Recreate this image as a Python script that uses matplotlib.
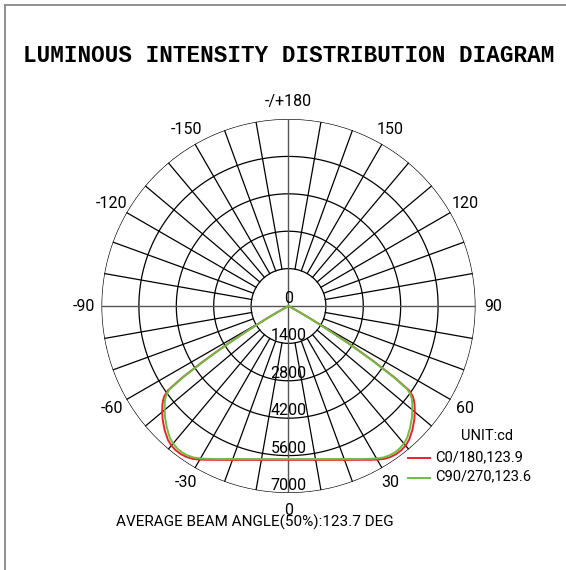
import matplotlib.pyplot as plt
import numpy as np
from matplotlib.lines import Line2D

# gamma angles (deg from nadir) and intensities (cd), half profile, mirrored
gamma = [0, 5, 10, 15, 20, 25, 28, 30, 32, 34, 36, 38, 40, 42, 45, 48, 50, 52, 53, 54, 55,
         56, 57, 58, 59, 60, 61, 62, 90]
c0_180 = [5760, 5782, 5850, 5963, 6130, 6355, 6520, 6640, 6750, 6820, 6855, 6855, 6820, 6745,
          6560, 6340, 6170, 5990, 5880, 5750, 5520, 4800, 3800, 2800, 1800, 1000, 400, 0, 0]
c90_270 = [5730, 5752, 5818, 5930, 6095, 6320, 6480, 6590, 6690, 6750, 6775, 6765, 6720, 6640,
           6440, 6220, 6050, 5880, 5780, 5650, 5430, 4700, 3700, 2700, 1700, 950, 380, 0, 0]

ring_values = [0, 1400, 2800, 4200, 5600, 7000]
angle_ticks = [0, 30, 60, 90, 120, 150, 180, -150, -120, -90, -60, -30]
angle_labels = ['0', '30', '60', '90', '120', '150', '-/+180', '-150', '-120', '-90', '-60', '-30']

sans = 'Roboto'
red = '#e8232b'
green = '#6cbd45'

fig = plt.figure(figsize=(5.66, 5.70), dpi=100)
ax = fig.add_axes([0.1793, 0.1351, 0.6608, 0.6561], projection='polar')
ax.set_theta_zero_location('S')
ax.set_theta_direction(1)
ax.set_ylim(0, 7000)
ax.grid(False)
ax.set_xticks([])
ax.set_yticks([])
ax.spines['polar'].set_visible(False)
ax.patch.set_alpha(0)

# rings
t = np.linspace(0, 2 * np.pi, 721)
for r in ring_values[1:]:
    ax.plot(t, np.full_like(t, r), color='black', lw=0.9, zorder=1)
# spokes every 10 deg, main axes through center
for a in range(0, 360, 10):
    th = np.deg2rad(a)
    if a % 90 == 0:
        ax.plot([th, th], [0, 7000], color='#555555', lw=1.0, zorder=1)
    else:
        ax.plot([th, th], [1400, 7000], color='black', lw=0.9, zorder=1)

# curves
g = np.array(gamma, dtype=float)
full_g = np.concatenate([-g[::-1], g[1:]])
for vals, col in [(c0_180, red), (c90_270, green)]:
    v = np.array(vals, dtype=float)
    full_v = np.concatenate([v[::-1], v[1:]])
    ax.plot(np.deg2rad(full_g), full_v, color=col, lw=1.4, zorder=3)

# radial labels
for r in ring_values:
    ax.text(0, r, str(r), ha='center', va='bottom', fontsize=11.5, family=sans, zorder=4)

# angle labels
for a, lab in zip(angle_ticks, angle_labels):
    ax.text(np.deg2rad(a), 7650, lab, ha='center', va='center', fontsize=11.5, family=sans,
            clip_on=False)

# title
fig.text(289 / 566, 1 - 55 / 570, 'LUMINOUS INTENSITY DISTRIBUTION DIAGRAM', ha='center', va='center',
         family='Liberation Mono', fontweight='bold', fontsize=16.3)

# bottom note
fig.text(254.5 / 566, 1 - 522 / 570, 'AVERAGE BEAM ANGLE(50%):123.7 DEG', ha='center', va='center',
         family=sans, fontsize=11)

# legend
fig.text(487.5 / 566, 1 - 436 / 570, 'UNIT:cd', ha='center', va='center', family=sans, fontsize=10.5)
fig.add_artist(Line2D([408 / 566, 430 / 566], [1 - 458 / 570] * 2, color=red, lw=1.4))
fig.add_artist(Line2D([408 / 566, 430 / 566], [1 - 478 / 570] * 2, color=green, lw=1.4))
fig.text(435 / 566, 1 - 457 / 570, 'C0/180,123.9', ha='left', va='center', family=sans, fontsize=10.5)
fig.text(435 / 566, 1 - 476 / 570, 'C90/270,123.6', ha='left', va='center', family=sans, fontsize=10.5)

# frame (left and top)
fig.add_artist(Line2D([4.5 / 566, 4.5 / 566], [0, 1 - 5 / 570], color='#888888', lw=1.3))
fig.add_artist(Line2D([4.5 / 566, 1], [1 - 5 / 570, 1 - 5 / 570], color='#888888', lw=1.3))

fig.savefig('out.png', dpi=100)
